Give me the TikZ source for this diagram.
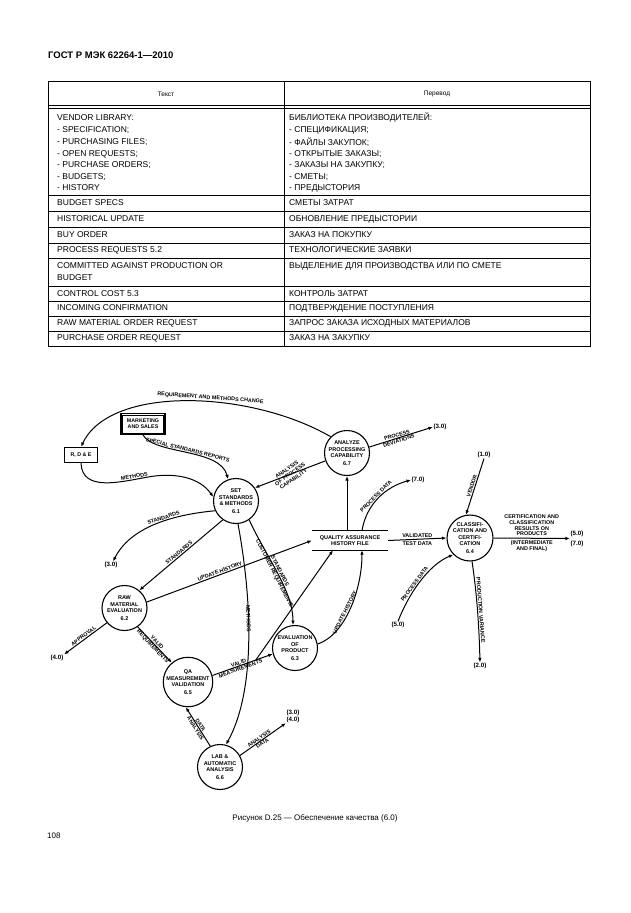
\documentclass[tikz,border=0pt]{standalone}
\usepackage{fontspec}
\setmainfont{Liberation Sans}
\usetikzlibrary{arrows.meta}
\begin{document}
\begin{tikzpicture}[x=1pt,y=-1pt,
  proc/.style={circle, draw, line width=1.1pt, minimum size=45pt, inner sep=0pt, align=center, font=\fontsize{5.5}{6.5}\selectfont\bfseries},
  ext/.style={draw, line width=1.1pt, inner sep=0pt, font=\fontsize{5.3}{6.2}\selectfont\bfseries, align=center},
  lbl/.style={font=\fontsize{5.4}{5.9}\selectfont\bfseries, inner sep=0.8pt, align=center},
  refl/.style={font=\fontsize{6.2}{7}\selectfont\bfseries, inner sep=0.5pt, align=center},
  flow/.style={line width=1pt, -{Latex[length=4.5pt,width=3.5pt]}},
  plain/.style={line width=1pt},
  tbl/.style={line width=0.6pt},
  tl/.style={font=\fontsize{8.5}{10}\selectfont, anchor=west, inner sep=0pt},
  th/.style={font=\fontsize{6.5}{8}\selectfont, inner sep=0pt}
]
\useasboundingbox[fill=white] (0,0) rectangle (630,913);

% ---------- header ----------
\node[anchor=west, inner sep=0pt, font=\fontsize{9.5}{11}\selectfont\bfseries] (hdr) at (48,55) {ГОСТ Р МЭК 62264-1—2010};

% ---------- table ----------
\draw[tbl] (48,81) rectangle (590,346);
\draw[tbl] (48,105) -- (590,105);
\draw[tbl] (48,108) -- (590,108);
\draw[tbl] (284,81) -- (284,346);
\foreach \yy in {195,211,227,243,258,286,301,316,331} \draw[tbl] (48,\yy) -- (590,\yy);
\node[th] (th1) at (166,94) {Текст};
\node[th] (th2) at (437,94) {Перевод};

\node[tl] (l1) at (57,118) {VENDOR LIBRARY:};
\node[tl] (l2) at (57,130) {- SPECIFICATION;};
\node[tl] (l3) at (57,142) {- PURCHASING FILES;};
\node[tl] (l4) at (57,154) {- OPEN REQUESTS;};
\node[tl] (l5) at (57,165) {- PURCHASE ORDERS;};
\node[tl] (l6) at (57,177) {- BUDGETS;};
\node[tl] (l7) at (57,188) {- HISTORY};
\node[tl] (l8) at (57,203) {BUDGET SPECS};
\node[tl] (l9) at (57,219) {HISTORICAL UPDATE};
\node[tl] (l10) at (57,235) {BUY ORDER};
\node[tl] (l11) at (57,250) {PROCESS REQUESTS 5.2};
\node[tl] (l12) at (57,266) {COMMITTED AGAINST PRODUCTION OR};
\node[tl] (l13) at (57,278) {BUDGET};
\node[tl] (l14) at (57,294) {CONTROL COST 5.3};
\node[tl] (l15) at (57,308) {INCOMING CONFIRMATION};
\node[tl] (l16) at (57,323) {RAW MATERIAL ORDER REQUEST};
\node[tl] (l17) at (57,338) {PURCHASE ORDER REQUEST};

\node[tl] (r1) at (289,118) {БИБЛИОТЕКА ПРОИЗВОДИТЕЛЕЙ:};
\node[tl] (r2) at (289,130) {-  СПЕЦИФИКАЦИЯ;};
\node[tl] (r3) at (289,142) {- ФАЙЛЫ ЗАКУПОК;};
\node[tl] (r4) at (289,154) {- ОТКРЫТЫЕ ЗАКАЗЫ;};
\node[tl] (r5) at (289,165) {- ЗАКАЗЫ НА ЗАКУПКУ;};
\node[tl] (r6) at (289,177) {- СМЕТЫ;};
\node[tl] (r7) at (289,188) {- ПРЕДЫСТОРИЯ};
\node[tl] (r8) at (289,203) {СМЕТЫ ЗАТРАТ};
\node[tl] (r9) at (289,219) {ОБНОВЛЕНИЕ ПРЕДЫСТОРИИ};
\node[tl] (r10) at (289,235) {ЗАКАЗ НА ПОКУПКУ};
\node[tl] (r11) at (289,250) {ТЕХНОЛОГИЧЕСКИЕ ЗАЯВКИ};
\node[tl] (r12) at (289,266) {ВЫДЕЛЕНИЕ ДЛЯ ПРОИЗВОДСТВА ИЛИ ПО СМЕТЕ};
\node[tl] (r14) at (289,294) {КОНТРОЛЬ ЗАТРАТ};
\node[tl] (r15) at (289,308) {ПОДТВЕРЖДЕНИЕ  ПОСТУПЛЕНИЯ};
\node[tl] (r16) at (289,323) {ЗАПРОС ЗАКАЗА ИСХОДНЫХ МАТЕРИАЛОВ};
\node[tl] (r17) at (289,338) {ЗАКАЗ НА ЗАКУПКУ};

% ---------- diagram nodes ----------
\node[proc] (p61) at (236,501) {SET\\STANDARDS\\\& METHODS\\[1pt]6.1};
\node[proc] (p67) at (347,453) {ANALYZE\\PROCESSING\\CAPABILITY\\[1pt]6.7};
\node[proc] (p62) at (124.5,608) {RAW\\MATERIAL\\EVALUATION\\[1pt]6.2};
\node[proc] (p63) at (295,648) {EVALUATION\\OF\\PRODUCT\\[1pt]6.3};
\node[proc, minimum size=49pt] (p65) at (188,682) {QA\\MEASUREMENT\\VALIDATION\\[1pt]6.5};
\node[proc] (p66) at (220,767) {LAB \&\\AUTOMATIC\\ANALYSIS\\[1pt]6.6};
\node[proc] (p64) at (470,538) {CLASSIFI-\\CATION AND\\CERTIFI-\\CATION\\[1pt]6.4};

\node[ext, minimum width=33pt, minimum height=15pt] (rde) at (81,455) {R, D \& E};
\node[ext, minimum width=44pt, minimum height=21pt] (mk) at (143,424) {MARKETING\\AND SALES};
\draw[line width=0.7pt] ([shift={(2pt,-2pt)}]mk.north west) rectangle ([shift={(-2pt,2pt)}]mk.south east);

\node[minimum width=76pt, minimum height=19pt, inner sep=0pt, align=center, font=\fontsize{5.5}{6.8}\selectfont\bfseries] (qf) at (350,540.5) {QUALITY ASSURANCE\\HISTORY FILE};
\draw[plain] (qf.north west) -- (qf.north east);
\draw[plain] (qf.south west) -- (qf.south east);

\node[refl] (t30a) at (440,427) {(3.0)};
\node[refl] (t70a) at (418,480) {(7.0)};
\node[refl] (t10) at (484,455) {(1.0)};
\node[refl] (t57) at (577,538.5) {(5.0)\\[3pt](7.0)};
\node[refl] (t20) at (480,666) {(2.0)};
\node[refl] (t50) at (398,625) {(5.0)};
\node[refl] (t30b) at (111,565) {(3.0)};
\node[refl] (t40) at (57,658) {(4.0)};
\node[refl] (t34) at (293,716) {(3.0)\\(4.0)};

% ---------- connectors ----------
\draw[flow] (p67.135) .. controls (250,390) and (110,385) .. node[lbl,sloped,above,pos=0.42]{REQUIREMENT AND METHODS CHANGE} (rde.north);
\draw[flow] (mk.south) .. controls (155,455) and (220,448) .. node[lbl,sloped,above,pos=0.5]{SPECIAL STANDARDS REPORTS} (p61.110);
\draw[flow] (rde.south) .. controls (82,492) and (120,482) .. node[lbl,sloped,above,pos=0.85]{METHODS} (148,477) .. controls (176,472) and (200,478) .. (p61.170);
\draw[flow] (p67.200) -- node[lbl,rotate=35,pos=0.5]{ANALYSIS\\OF PROCESS\\CAPABILITY} (p61.35);
\draw[flow] (p67.15) -- node[lbl,sloped,pos=0.45]{PROCESS\\DEVIATIONS} (t30a.west);
\draw[flow] (p67.south |- qf.north) -- (p67.south);
\draw[flow] ([xshift=12pt]qf.north) .. controls (366,505) and (385,487) .. node[lbl,sloped,above,pos=0.5]{PROCESS DATA} (t70a.west);
\draw[flow] (p61.205) .. controls (170,515) and (130,528) .. node[lbl,sloped,above,pos=0.4]{STANDARDS} (t30b.60);
\draw[flow] (p61.235) -- node[lbl,sloped,above]{STANDARDS} (p62.50);
\draw[flow] (p62.15) -- node[lbl,sloped,above,pos=0.45]{UPDATE HISTORY} (qf.west);
\draw[flow] (p61.-55) .. controls (265,555) and (293,590) .. node[lbl,sloped,pos=0.5]{STANDARDS\\CUSTOMER REQUIREMENTS} (p63.95);
\draw[flow] (p61.-85) .. controls (252,600) and (256,690) .. node[lbl,sloped,pos=0.4]{METHODS} (p66.75);
\draw[flow] (p62.220) -- node[lbl,sloped,above]{APPROVAL} (t40.north east);
\draw[flow] (p62.-55) -- node[lbl,sloped]{VALID\\REQUIREMENTS} (p65.130);
\draw[flow] (p65.15) -- node[lbl,sloped,pos=0.45]{VALID\\MEASUREMENTS} coordinate[pos=0.72] (vmb) (p63.195);
\draw[flow] (vmb) -- ([xshift=-17pt]qf.south);
\draw[flow] (p63.10) .. controls (345,635) and (362,590) .. node[lbl,sloped,above,pos=0.45]{UPDATE HISTORY} ([xshift=12pt]qf.south);
\draw[flow] (p66.115) -- node[lbl,sloped]{DATA\\ANALYSIS} (p65.-95);
\draw[flow] (p66.30) -- node[lbl,sloped,pos=0.45]{ANALYSIS\\DATA} (t34.south west);
\draw[flow] (qf.east) -- node[lbl]{VALIDATED\\[2pt]TEST DATA} (p64.180);
\draw[flow] (t10.south) -- node[lbl,sloped,above]{VENDOR} (p64.100);
\draw[flow] (p64.0) -- node[lbl,above=1pt]{CERTIFICATION AND\\CLASSIFICATION\\RESULTS ON\\PRODUCTS} node[lbl,below=1pt]{(INTERMEDIATE\\AND FINAL)} (t57.west);
\draw[flow] (t50.north) .. controls (408,595) and (428,565) .. node[lbl,sloped,above,pos=0.45]{PROCESS DATA} (p64.225);
\draw[flow] (p64.-85) .. controls (477,595) and (479,625) .. node[lbl,sloped,above,pos=0.5]{PRODUCTION VARIANCE} (t20.north);

% ---------- caption ----------
\node[inner sep=0pt, font=\fontsize{8}{10}\selectfont] (cap) at (315,818) {Рисунок  D.25 — Обеспечение качества (6.0)};
\node[anchor=west, inner sep=0pt, font=\fontsize{8}{10}\selectfont] (pg) at (47,836) {108};
\end{tikzpicture}
\end{document}
